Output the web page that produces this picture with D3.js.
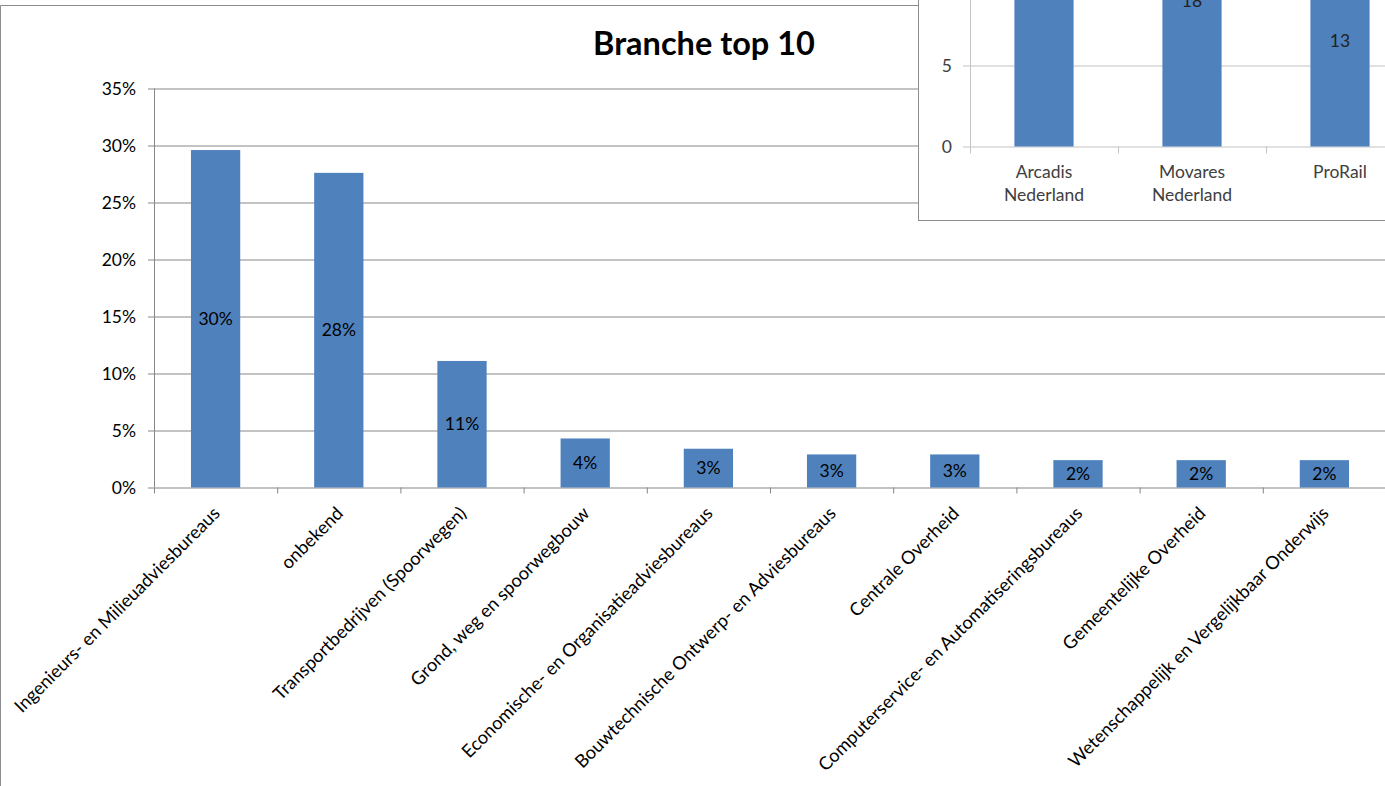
<!DOCTYPE html>
<html>
<head>
<meta charset="utf-8">
<script src="https://cdnjs.cloudflare.com/ajax/libs/d3/7.8.5/d3.min.js"></script>
<style>
  body { margin: 0; background: #fff; }
  svg { display: block; font-family: Lato, "Open Sans", sans-serif; }
</style>
</head>
<body>
<div id="chart"></div>
<script>
// main chart data
const categories = [
  "Ingenieurs- en Milieuadviesbureaus",
  "onbekend",
  "Transportbedrijven (Spoorwegen)",
  "Grond, weg en spoorwegbouw",
  "Economische- en Organisatieadviesbureaus",
  "Bouwtechnische Ontwerp- en Adviesbureaus",
  "Centrale Overheid",
  "Computerservice- en Automatiseringsbureaus",
  "Gemeentelijke Overheid",
  "Wetenschappelijk en Vergelijkbaar Onderwijs"
];
const shares = [0.296, 0.276, 0.111, 0.043, 0.034, 0.029, 0.029, 0.024, 0.024, 0.024];
const yTicks = [0, 0.05, 0.10, 0.15, 0.20, 0.25, 0.30, 0.35];

// inset chart data (partly cut off in the picture)
const insetCats = [["Arcadis", "Nederland"], ["Movares", "Nederland"], ["ProRail"]];
const insetValues = [24, 18, 13];
const insetTicks = [0, 5];

const W = 1385, H = 786;
const barColor = "#4f81bd";

const svg = d3.select("#chart").append("svg")
  .attr("width", W)
  .attr("height", H);

// outer chart border (left + top)
svg.append("path")
  .attr("d", "M0.5," + H + "V5.5H1400")
  .attr("fill", "none")
  .attr("stroke", "#8c8c8c");

// title
svg.append("text")
  .attr("x", 704)
  .attr("y", 55)
  .attr("text-anchor", "middle")
  .attr("font-weight", "bold")
  .attr("font-size", 32.5)
  .text("Branche top 10");

// scales
let x = d3.scaleBand().domain(categories).range([154, 1386])
  .paddingInner(0.6).paddingOuter(0.3);
let xEdge = d3.scaleBand().domain(categories).range([154, 1386]);
let y = d3.scaleLinear().domain([0, 0.35]).range([487.5, 88.5]);

// y axis + gridlines
let yAxis = d3.axisLeft(y).tickValues(yTicks)
  .tickFormat(d3.format(".0%"))
  .tickSize(-(1386 - 148)).tickPadding(12);
let gy = svg.append("g").attr("transform", "translate(148,0)").call(yAxis);
gy.select(".domain").remove();
gy.selectAll("line").attr("stroke", "#878787");
gy.selectAll("text").attr("font-size", 17.5).attr("fill", "#000")
  .attr("font-family", "Lato, sans-serif");

svg.append("line")
  .attr("x1", 154.5).attr("x2", 154.5)
  .attr("y1", y(0.35)).attr("y2", y(0))
  .attr("stroke", "#878787");

// category boundary ticks
svg.append("g").selectAll("line")
  .data(categories.concat([null]))
  .join("line")
  .attr("x1", (d) => (d ? xEdge(d) : 1386) + 0.5)
  .attr("x2", (d) => (d ? xEdge(d) : 1386) + 0.5)
  .attr("y1", y(0)).attr("y2", y(0) + 6)
  .attr("stroke", "#878787");

// bars
svg.append("g").selectAll("rect")
  .data(shares)
  .join("rect")
  .attr("x", (d, i) => x(categories[i]))
  .attr("width", x.bandwidth())
  .attr("y", (d) => y(d))
  .attr("height", (d) => y(0) - y(d))
  .attr("fill", barColor);

// data labels
svg.append("g").selectAll("text")
  .data(shares)
  .join("text")
  .attr("x", (d, i) => x(categories[i]) + x.bandwidth() / 2)
  .attr("y", (d) => (y(d) + y(0)) / 2)
  .attr("dy", "0.35em")
  .attr("text-anchor", "middle")
  .attr("font-size", 17.5)
  .text((d) => d3.format(".0%")(d));

// category labels
let xAxis = d3.axisBottom(x).tickSize(0).tickPadding(0);
let gx = svg.append("g").attr("transform", "translate(1,510)").call(xAxis);
gx.select(".domain").remove();
gx.selectAll("text")
  .attr("font-size", 18.2)
  .attr("fill", "#000")
  .attr("font-family", "Lato, sans-serif")
  .attr("text-anchor", "end")
  .attr("dy", "0.35em")
  .attr("y", 0)
  .attr("transform", "rotate(-45)");

// ---- inset chart (top right, partly outside the view) ----
let inset = svg.append("g");
inset.append("rect")
  .attr("x", 918.5).attr("y", -60)
  .attr("width", 600).attr("height", 280.5)
  .attr("fill", "#fff")
  .attr("stroke", "#8c8c8c");

let xi = d3.scaleBand().domain(insetCats.map((d) => d.join(" "))).range([970, 1414])
  .paddingInner(0.6).paddingOuter(0.3);
let xiEdge = d3.scaleBand().domain(insetCats.map((d) => d.join(" "))).range([970, 1414]);
let yi = d3.scaleLinear().domain([0, 25]).range([146.5, 146.5 - 25 * 16.2]);

let yiAxis = d3.axisLeft(yi).tickValues(insetTicks)
  .tickSize(-(1414 - 963)).tickPadding(11);
let giy = inset.append("g").attr("transform", "translate(963,0)").call(yiAxis);
giy.select(".domain").remove();
giy.selectAll("line").attr("stroke", "#c3c3c3");
giy.selectAll("text").attr("font-size", 17.5).attr("fill", "#404040")
  .attr("font-family", "Lato, sans-serif");

inset.append("line")
  .attr("x1", 970.5).attr("x2", 970.5)
  .attr("y1", yi(25)).attr("y2", yi(0))
  .attr("stroke", "#c3c3c3");

inset.append("g").selectAll("line")
  .data(insetCats)
  .join("line")
  .attr("x1", (d) => xiEdge(d.join(" ")) + 0.5)
  .attr("x2", (d) => xiEdge(d.join(" ")) + 0.5)
  .attr("y1", yi(0)).attr("y2", yi(0) + 7)
  .attr("stroke", "#c3c3c3");

inset.append("g").selectAll("rect")
  .data(insetValues)
  .join("rect")
  .attr("x", (d, i) => xi(insetCats[i].join(" ")))
  .attr("width", xi.bandwidth())
  .attr("y", (d) => yi(d))
  .attr("height", (d) => yi(0) - yi(d))
  .attr("fill", barColor);

inset.append("g").selectAll("text")
  .data(insetValues)
  .join("text")
  .attr("x", (d, i) => xi(insetCats[i].join(" ")) + xi.bandwidth() / 2)
  .attr("y", (d) => (yi(d) + yi(0)) / 2)
  .attr("dy", "0.35em")
  .attr("text-anchor", "middle")
  .attr("font-size", 17.5)
  .attr("fill", "#222")
  .text((d) => d);

inset.append("g").selectAll("text")
  .data(insetCats)
  .join("text")
  .attr("x", (d) => xi(d.join(" ")) + xi.bandwidth() / 2)
  .attr("y", 178)
  .attr("text-anchor", "middle")
  .attr("font-size", 17.5)
  .attr("fill", "#404040")
  .each(function (d) {
    d3.select(this).selectAll("tspan")
      .data(d)
      .join("tspan")
      .attr("x", d3.select(this).attr("x"))
      .attr("dy", (t, j) => (j ? 23 : 0))
      .text((t) => t);
  });
</script>
</body>
</html>
